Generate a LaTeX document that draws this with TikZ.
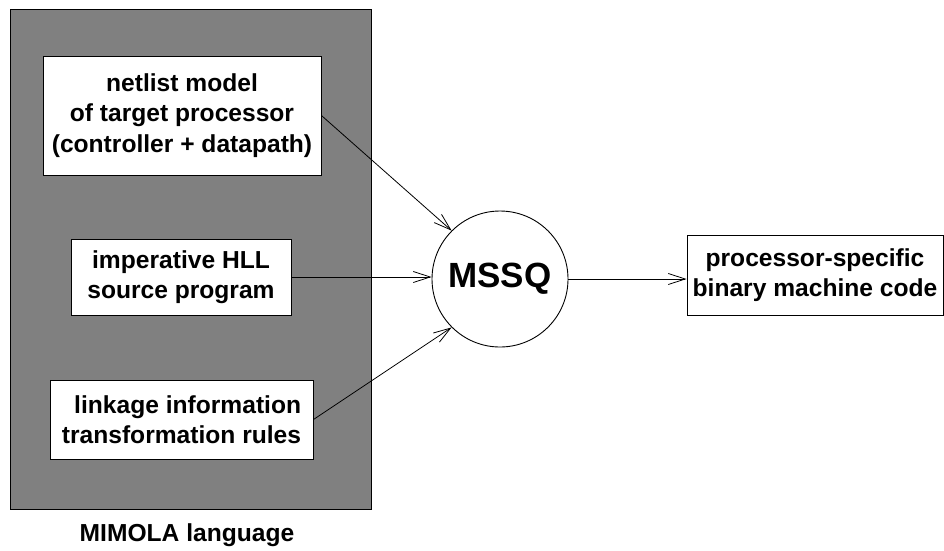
\documentclass[tikz,border=0pt]{standalone}
\usepackage{fontspec}
\setmainfont{Liberation Sans}
\usetikzlibrary{arrows.meta}
\begin{document}
\begin{tikzpicture}[x=1pt,y=-1pt,
  txt/.style={font=\fontsize{24.6}{30.5}\selectfont\bfseries, align=center},
  whitebox/.style={txt, draw=black, line width=0.9pt, fill=white, inner sep=0pt},
  flow/.style={line width=0.8pt, -{Straight Barb[length=17pt,width=11pt,line width=0.8pt]}}
]
\useasboundingbox (0,0) rectangle (944,550);

% language frame
\node[draw=black, line width=0.9pt, fill=gray, minimum width=361pt, minimum height=500pt,
      inner sep=0pt] (frame) at (190.5,259) {};
\node[txt, anchor=base] (lang) at (187,541) {MIMOLA language};

% inputs written in MIMOLA
\node[whitebox, minimum width=278pt, minimum height=119pt] (netlist) at (182,115.5)
  {netlist model\\of target processor\\(controller + datapath)};
\node[whitebox, minimum width=220pt, minimum height=76pt] (hll) at (181,277)
  {imperative HLL\\source program};
\node[whitebox, align=right, minimum width=263pt, minimum height=79pt] (link) at (181.5,419.5)
  {linkage information\\transformation rules};

% compiler
\node[draw=black, line width=0.9pt, circle, minimum size=136pt, inner sep=0pt,
      font=\fontsize{35}{40}\selectfont\bfseries] (mssq) at (500,279) {MSSQ};

% output
\node[whitebox, minimum width=256pt, minimum height=80pt] (code) at (815,275)
  {processor-specific\\binary machine code};

% connectors
\draw[flow] (netlist.east) -- (mssq.135);
\draw[flow] (hll.east) -- (hll.east -| mssq.west);
\draw[flow] (link.east) -- (mssq.-135);
\draw[flow] (mssq.east) -- (mssq.east -| code.west);
\end{tikzpicture}
\end{document}
